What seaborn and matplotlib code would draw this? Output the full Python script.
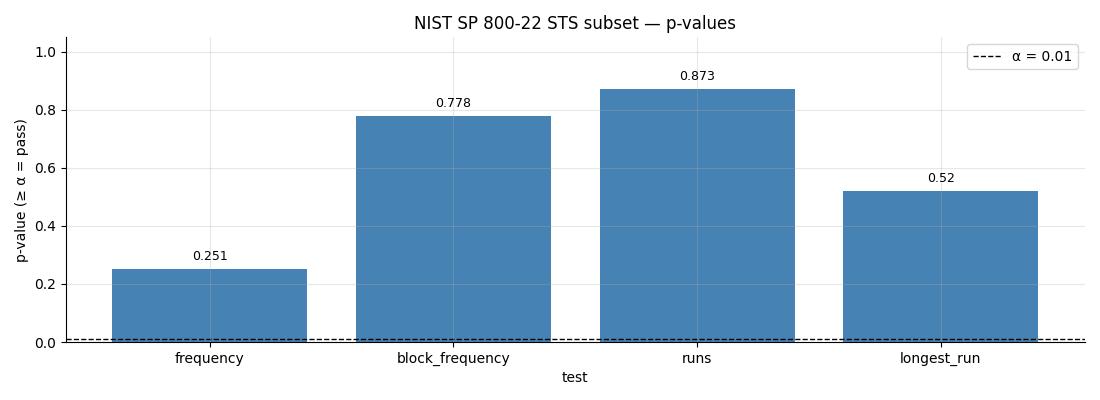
import matplotlib
matplotlib.use("Agg")
import matplotlib.pyplot as plt
import seaborn as sns
import pandas as pd

tests = ["frequency", "block_frequency", "runs", "longest_run"]
p_values = [0.251, 0.778, 0.873, 0.52]
alpha = 0.01

df = pd.DataFrame({"test": tests, "p": p_values})

plt.rcParams['font.family'] = ['DejaVu Sans']

fig, ax = plt.subplots(figsize=(11, 4), dpi=100)
sns.barplot(data=df, x="test", y="p", color="steelblue", saturation=1, width=0.8,
            linewidth=0, ax=ax)
ax.axhline(alpha, color="black", linestyle="--", linewidth=1, label=f"α = {alpha}")
for i, v in enumerate(p_values):
    ax.text(i, v + 0.02, f"{v:g}", ha="center", va="bottom", fontsize=9)
ax.set_xlim(-0.59, 3.59)
ax.set_ylim(0, 1.05)
ax.set_title("NIST SP 800-22 STS subset — p-values")
ax.set_xlabel("test")
ax.set_ylabel("p-value (≥ α = pass)")
ax.grid(True, alpha=0.3)
ax.set_axisbelow(False)
sns.despine(ax=ax)
ax.legend(loc="upper right")
fig.subplots_adjust(left=0.06, right=0.986, top=0.907, bottom=0.145)
fig.savefig("out.png")
